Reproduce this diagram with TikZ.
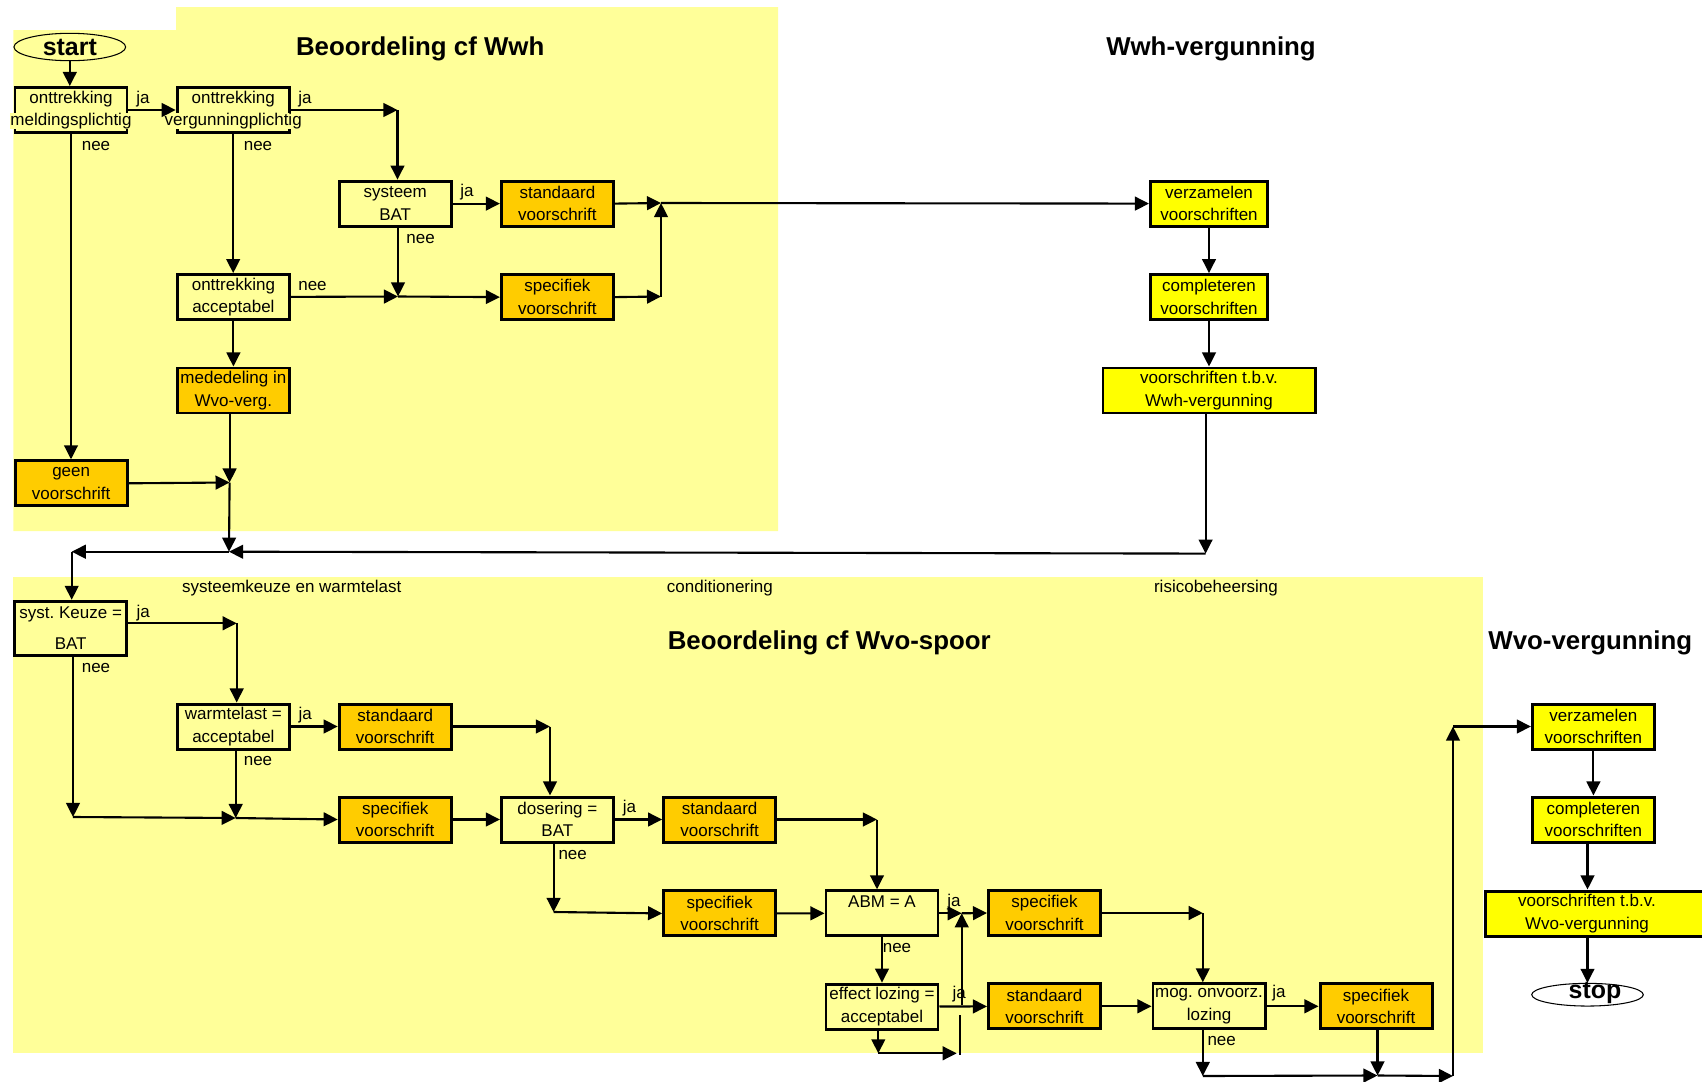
\documentclass[tikz,border=0pt]{standalone}
\usepackage{fontspec}
\setmainfont{Liberation Sans}
\usepackage{xcolor}
\usetikzlibrary{positioning, calc, arrows.meta, shapes.geometric}

\definecolor{panelyellow}{HTML}{FFFF99}
\definecolor{ruleorange}{HTML}{FFCC00}
\definecolor{permityellow}{HTML}{FFFF00}

% second text line that is wider than its box
\newcommand{\overrun}[1]{\makebox[0pt]{\setlength{\fboxsep}{0pt}\colorbox{panelyellow}{#1}}}

\begin{document}
\begin{tikzpicture}[x=1cm, y=-1cm,
    txt/.style={font=\fontsize{4.84pt}{6.4pt}\selectfont},
    ask/.style={txt, draw, line width=0.85pt, minimum width=1.12cm, minimum height=0.45cm, inner sep=0pt, align=center},
    rule/.style={ask, fill=ruleorange},
    permit/.style={ask, fill=permityellow, minimum width=1.17cm},
    yn/.style={txt, inner sep=0pt, text height=0.089cm, text depth=0pt},
    head/.style={font=\fontsize{7.35pt}{8pt}\selectfont\bfseries, inner sep=0pt, anchor=base},
    term/.style={draw, ellipse, line width=0.3pt, inner sep=0pt, font=\fontsize{7.1pt}{8pt}\selectfont\bfseries},
    flow/.style={line width=0.6pt, -{Triangle[length=4pt, width=3.9pt]}},
    stub/.style={line width=0.3pt}
  ]

    \useasboundingbox (0,0) rectangle (17.02,10.82);

    % --- PANELS ---
    % Wwh panel (top left), Wvo panel (bottom)
    \fill[panelyellow] (0.133,0.30) -- (1.76,0.30) -- (1.76,0.071) -- (7.78,0.071)
                       -- (7.78,5.31) -- (0.133,5.31) -- cycle;
    \fill[panelyellow] (0.128,5.766) rectangle (14.833,10.533);

    % --- HEADINGS ---
    \node[head] (wwhHead)       at (4.202,0.554) {Beoordeling cf Wwh};
    \node[head] (wwhPermitHead) at (12.11,0.554) {Wwh-vergunning};
    \node[head] (wvoHead)       at (8.292,6.49)  {Beoordeling cf Wvo-spoor};
    \node[head] (wvoPermitHead) at (15.903,6.49) {Wvo-vergunning};

    \node[yn] (sysLbl)  at (2.918,5.883) {systeemkeuze en warmtelast};
    \node[yn] (condLbl) at (7.199,5.883) {conditionering};
    \node[yn] (risLbl)  at (12.16,5.883) {risicobeheersing};

    % --- WWH TRACK ---
    \node[term, minimum width=1.117cm, minimum height=0.274cm] (start) at (0.698,0.47) {start};

    \node[ask] (meld)   at (0.71,1.10)   {onttrekking\\\overrun{meldingsplichtig}};
    \node[ask] (verg)   at (2.332,1.10)  {onttrekking\\\overrun{vergunningplichtig}};
    \node[ask] (bat)    at (3.952,2.036) {systeem\\BAT};
    \node[rule] (std1)  at (5.574,2.036) {standaard\\voorschrift};
    \node[ask] (accept) at (2.334,2.971) {onttrekking\\acceptabel};
    \node[rule] (spec1) at (5.574,2.971) {specifiek\\voorschrift};
    \node[rule] (meded) at (2.334,3.905) {mededeling in\\Wvo-verg.};
    \node[rule] (geen)  at (0.712,4.833) {geen\\voorschrift};

    \node[permit] (verzWwh)  at (12.09,2.036) {verzamelen\\voorschriften};
    \node[permit] (complWwh) at (12.09,2.971) {completeren\\voorschriften};
    \node[permit, minimum width=2.12cm] (tbvWwh) at (12.09,3.905) {voorschriften t.b.v.\\Wwh-vergunning};

    % ja / nee
    \node[yn] (ja1)  at (1.43,0.993)  {ja};
    \node[yn] (ja2)  at (3.05,0.993)  {ja};
    \node[yn] (nee1) at (0.96,1.457)  {nee};
    \node[yn] (nee2) at (2.58,1.457)  {nee};
    \node[yn] (ja3)  at (4.67,1.918)  {ja};
    \node[yn] (nee3) at (4.206,2.386) {nee};
    \node[yn] (nee4) at (3.125,2.857) {nee};

    % junctions
    \coordinate (jA) at (3.975,1.10);
    \coordinate (jB) at (3.98,2.965);
    \coordinate (jC) at (6.61,2.03);
    \coordinate (jD) at (6.61,2.965);
    \coordinate (jE) at (2.296,4.825);
    \coordinate (jF) at (2.29,5.517);
    \coordinate (jG) at (12.056,5.536);
    \coordinate (jH) at (0.717,5.517);

    \draw[flow] (start) -- (start |- meld.north);
    \draw[flow] (meld) -- (verg);
    \draw[flow] (verg) -- (jA);
    \draw[flow] (jA) -- (jA |- bat.north);
    \draw[flow] (meld) -- (meld |- geen.north);
    \draw[flow] (verg) -- (verg |- accept.north);
    \draw[flow] (bat) -- (std1);
    \draw[flow] (jB |- bat.south) -- (jB);
    \draw[flow] (accept) -- (jB);
    \draw[flow] (jB) -- (spec1.west);
    \draw[flow] (std1.east) -- (jC);
    \draw[flow] (spec1.east) -- (jD);
    \draw[flow] (jD) -- (jC);
    \draw[flow] (jC) -- (verzWwh.west);
    \draw[flow] (verzWwh) -- (complWwh);
    \draw[flow] (complWwh) -- (tbvWwh);
    \draw[flow] (accept) -- (meded);
    \draw[flow] (jE |- meded.south) -- (jE);
    \draw[flow] (geen.east) -- (jE);
    \draw[flow] (jE) -- (jF);
    \draw[flow] (jG |- tbvWwh.south) -- (jG);
    \draw[flow] (jG) -- (jF);
    \draw[flow] (jF) -- (jH);

    % --- WVO TRACK ---
    \node[ask, minimum height=0.54cm] (sysKeuze) at (0.707,6.283) {syst.\ Keuze =\\[0.083cm]BAT};
    \node[ask] (warmte) at (2.334,7.265) {warmtelast =\\acceptabel};
    \node[rule] (std2)  at (3.952,7.265) {standaard\\voorschrift};
    \node[rule] (spec2) at (3.952,8.195) {specifiek\\voorschrift};
    \node[ask] (doser)  at (5.574,8.195) {dosering =\\BAT};
    \node[rule] (std3)  at (7.196,8.195) {standaard\\voorschrift};
    \node[rule] (spec3) at (7.196,9.134) {specifiek\\voorschrift};
    \node[ask] (abm)    at (8.82,9.133)  {ABM = A\\~};
    \node[rule] (spec4) at (10.445,9.13) {specifiek\\voorschrift};
    \node[ask] (effect) at (8.82,10.066) {effect lozing =\\acceptabel};
    \node[rule] (std4)  at (10.445,10.063) {standaard\\voorschrift};
    \node[ask] (mog)    at (12.09,10.063)  {mog.\ onvoorz.\\lozing};
    \node[rule] (spec5) at (13.76,10.063)  {specifiek\\voorschrift};

    \node[permit, minimum width=1.22cm] (verzWvo)  at (15.934,7.265) {verzamelen\\voorschriften};
    \node[permit, minimum width=1.22cm] (complWvo) at (15.934,8.195) {completeren\\voorschriften};
    \node[permit, minimum width=2.26cm] (tbvWvo)   at (15.98,9.135)
        {voorschriften t.b.v.\hspace*{0.22cm}\\Wvo-vergunning\hspace*{0.22cm}};
    \node[term, minimum width=1.116cm, minimum height=0.227cm] (stop) at (15.875,9.947)
        {\smash{\hspace{0.15cm}\raisebox{-0.036cm}{stop}}};

    % ja / nee
    \node[yn] (jaS)  at (1.432,6.126) {ja};
    \node[yn] (neeS) at (0.96,6.682)  {nee};
    \node[yn] (jaW)  at (3.052,7.155) {ja};
    \node[yn] (neeW) at (2.58,7.614)  {nee};
    \node[yn] (jaD)  at (6.295,8.08)  {ja};
    \node[yn] (neeD) at (5.727,8.546) {nee};
    \node[yn] (jaA)  at (9.54,9.017)  {ja};
    \node[yn] (neeA) at (8.97,9.478)  {nee};
    \node[yn] (jaE)  at (9.593,9.94)  {ja};
    \node[yn] (jaM)  at (12.79,9.928) {ja};
    \node[yn] (neeM) at (12.217,10.41) {nee};

    % junctions
    \coordinate (jI) at (2.367,6.233);
    \coordinate (jJ) at (0.73,8.17);
    \coordinate (jK) at (2.357,8.18);
    \coordinate (jL) at (5.50,7.265);
    \coordinate (jM) at (5.536,9.12);
    \coordinate (jN) at (8.77,8.195);
    \coordinate (jO) at (9.617,9.133);
    \coordinate (jP) at (9.617,10.05);
    \coordinate (jQ) at (8.783,10.533);
    \coordinate (jR) at (9.567,10.533);
    \coordinate (jS) at (9.60,10.15);
    \coordinate (jT) at (9.60,10.55);
    \coordinate (jU) at (12.028,9.13);
    \coordinate (jV) at (12.028,10.76);
    \coordinate (jW) at (13.775,10.755);
    \coordinate (jX) at (14.53,10.76);
    \coordinate (jY) at (14.53,7.265);

    \draw[flow] (jH) -- (jH |- sysKeuze.north);
    \draw[flow] (sysKeuze.east |- jI) -- (jI);
    \draw[flow] (jI) -- (jI |- warmte.north);
    \draw[flow] (jJ |- sysKeuze.south) -- (jJ);
    \draw[flow] (jJ) -- (jK);
    \draw[flow] (jK |- warmte.south) -- (jK);
    \draw[flow] (jK) -- (spec2.west);
    \draw[flow] (warmte) -- (std2);
    \draw[flow] (std2.east) -- (jL);
    \draw[flow] (jL) -- (jL |- doser.north);
    \draw[flow] (spec2) -- (doser);
    \draw[flow] (doser) -- (std3);
    \draw[flow] (jM |- doser.south) -- (jM);
    \draw[flow] (jM) -- (spec3.west);
    \draw[flow] (std3.east) -- (jN);
    \draw[flow] (jN) -- (jN |- abm.north);
    \draw[flow] (spec3) -- (abm);
    \draw[flow] (abm.east) -- (jO);
    \draw[flow] (jO) -- (spec4.west);
    \draw[flow] (abm) -- (effect);
    \draw[flow] (effect) -- (std4);
    \draw[flow] (jP) -- (jO);
    \draw[flow] (jQ |- effect.south) -- (jQ);
    \draw[flow] (jQ) -- (jR);
    \draw[stub] (jS) -- (jT);
    \draw[flow] (spec4.east) -- (jU);
    \draw[flow] (jU) -- (jU |- mog.north);
    \draw[flow] (std4) -- (mog);
    \draw[flow] (mog) -- (spec5);
    \draw[flow] (jV |- mog.south) -- (jV);
    \draw[flow] (jV) -- (jW);
    \draw[flow] (jW |- spec5.south) -- (jW);
    \draw[flow] (jW) -- (jX);
    \draw[flow] (jX) -- (jY);
    \draw[flow] (jY) -- (verzWvo.west);
    \draw[flow] (verzWvo) -- (complWvo);
    \draw[flow] (stop.north |- complWvo.south) -- (stop.north |- tbvWvo.north);
    \draw[flow] (stop.north |- tbvWvo.south) -- (stop.north);

\end{tikzpicture}
\end{document}
